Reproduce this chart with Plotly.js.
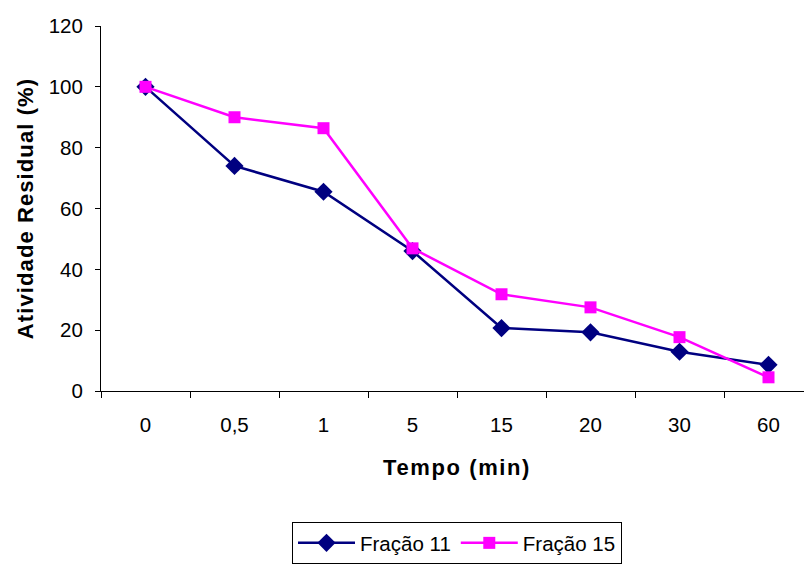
<!DOCTYPE html>
<html>
<head>
<meta charset="utf-8">
<script src="https://cdn.plot.ly/plotly-3.0.1.min.js"></script>
<style>
  html, body { margin: 0; padding: 0; overflow: hidden; background: #fff; }
  #chart { width: 820px; height: 564px; }
  .xtitle { letter-spacing: 1.6px; }
  .ytitle { letter-spacing: 1.1px; }
</style>
</head>
<body>
<div id="chart"></div>
<script>
// Residual activity (%) after incubation time, two protein fractions
const tempos = ["0", "0,5", "1", "5", "15", "20", "30", "60"];
const fracao11 = [100, 74, 65.5, 46, 20.7, 19.3, 12.9, 8.6];
const fracao15 = [100, 90, 86.4, 46.9, 31.8, 27.5, 17.7, 4.5];
const yTicks = [0, 20, 40, 60, 80, 100, 120];

const fontFamily = '"Liberation Sans", Arial, sans-serif';
const tickSize = 20.5;
const titleSize = 22;

const traces = [
  {
    x: tempos, y: fracao11, name: "Fração 11",
    type: "scatter", mode: "lines+markers",
    line: { color: "#000080", width: 2.5 },
    marker: { symbol: "diamond", size: 14, color: "#000080" }
  },
  {
    x: tempos, y: fracao15, name: "Fração 15",
    type: "scatter", mode: "lines+markers",
    line: { color: "#FF00FF", width: 2.5 },
    marker: { symbol: "square", size: 12, color: "#FF00FF" }
  }
];

const layout = {
  width: 820, height: 564,
  margin: { l: 101, r: 7, t: 26, b: 173, autoexpand: false },
  paper_bgcolor: "#fff", plot_bgcolor: "#fff",
  font: { family: fontFamily, size: tickSize, color: "#000" },
  showlegend: true,
  legend: {
    orientation: "h", x: 0.5, xanchor: "center", y: -0.359, yanchor: "top",
    bordercolor: "#000", borderwidth: 1, bgcolor: "#fff",
    itemwidth: 57,
    font: { family: fontFamily, size: tickSize, color: "#000" },
    itemclick: false
  },
  xaxis: {
    type: "category",
    categoryorder: "array", categoryarray: tempos,
    range: [-0.5, tempos.length - 0.5],
    showline: true, linecolor: "#000", linewidth: 1,
    ticks: "outside", tickson: "boundaries", ticklen: 6, tickcolor: "#000",
    ticklabelstandoff: 15,
    showgrid: false, zeroline: false,
    tickfont: { family: fontFamily, size: tickSize, color: "#000" },
    title: { text: "<b>Tempo (min)</b>", standoff: 25,
             font: { family: fontFamily, size: titleSize, color: "#000" } },
    automargin: false, fixedrange: true
  },
  yaxis: {
    range: [0, 120], tickvals: yTicks, ticktext: yTicks.map(String),
    showline: true, linecolor: "#000", linewidth: 1,
    ticks: "outside", ticklen: 5, tickcolor: "#000",
    ticklabelstandoff: 8,
    showgrid: false, zeroline: false,
    tickfont: { family: fontFamily, size: tickSize, color: "#000" },
    title: { text: "<b>Atividade Residual (%)</b>", standoff: 8,
             font: { family: fontFamily, size: titleSize, color: "#000" } },
    automargin: false, fixedrange: true
  }
};

Plotly.newPlot("chart", traces, layout, { displayModeBar: false, staticPlot: true });
</script>
</body>
</html>
